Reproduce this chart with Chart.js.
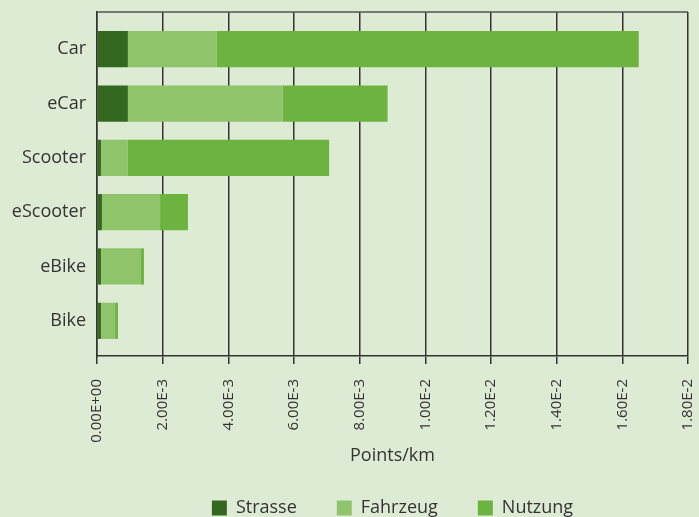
<!DOCTYPE html>
<html>
<head>
<meta charset="utf-8">
<script src="https://cdn.jsdelivr.net/npm/chart.js@4.4.1/dist/chart.umd.min.js"></script>
<style>
  html, body { margin: 0; padding: 0; background: #ddebd4; }
  #wrap { width: 699px; height: 517px; }
</style>
</head>
<body>
<div id="wrap"><canvas id="chart"></canvas></div>
<script>
// Points per km, split into the three impact parts
const categories = ["Car", "eCar", "Scooter", "eScooter", "eBike", "Bike"]
const strasse = [0.00094, 0.00094, 0.00012, 0.00015, 0.00012, 0.00012]
const fahrzeug = [0.00271, 0.00471, 0.00082, 0.00177, 0.00122, 0.00043]
const nutzung = [0.01285, 0.0032, 0.00613, 0.00085, 0.00009, 0.00009]

const xTickValues = [0, 0.002, 0.004, 0.006, 0.008, 0.01, 0.012, 0.014, 0.016, 0.018]
const xTickLabels = ["0.00E+00", "2.00E-3", "4.00E-3", "6.00E-3", "8.00E-3",
  "1.00E-2", "1.20E-2", "1.40E-2", "1.60E-2", "1.80E-2"]

const textColor = "#333333"
const fontFamily = "'Open Sans', sans-serif"

// bars sit on a linear index axis so the rows can be spaced freely
function rows(values) {
  return values.map((v, i) => ({ x: v, y: i }))
}

// top edge of the plot frame
const frameTop = {
  id: "frameTop",
  afterDraw(chart) {
    const { ctx, chartArea } = chart
    ctx.save()
    ctx.strokeStyle = "#555555"
    ctx.lineWidth = 1.5
    ctx.beginPath()
    ctx.moveTo(chartArea.left, chartArea.top)
    ctx.lineTo(chartArea.right, chartArea.top)
    ctx.stroke()
    ctx.restore()
  },
}

const ctx = document.getElementById("chart").getContext("2d")
new Chart(ctx, {
  type: "bar",
  data: {
    datasets: [
      { label: "Strasse", data: rows(strasse), backgroundColor: "#33691e" },
      { label: "Fahrzeug", data: rows(fahrzeug), backgroundColor: "#8fc46a" },
      { label: "Nutzung", data: rows(nutzung), backgroundColor: "#6db33f" },
    ],
  },
  options: {
    indexAxis: "y",
    responsive: true,
    maintainAspectRatio: false,
    animation: false,
    barPercentage: 0.667,
    categoryPercentage: 1,
    layout: { padding: { top: 12, right: 11, left: 0, bottom: -10 } },
    plugins: {
      tooltip: { enabled: false },
      legend: {
        position: "bottom",
        fullSize: false,
        labels: {
          boxWidth: 15,
          boxHeight: 15,
          padding: 40,
          color: textColor,
          font: { family: fontFamily, size: 18 },
        },
      },
    },
    scales: {
      x: {
        type: "linear",
        stacked: true,
        min: 0,
        max: 0.018,
        afterBuildTicks: (scale) => {
          scale.ticks = xTickValues.map((v) => ({ value: v }))
        },
        afterFit: (scale) => {
          scale.height = 103
          scale.paddingLeft = 0
          scale.paddingRight = 0
        },
        grid: { color: "#333333", lineWidth: 1.5, tickLength: 8, drawTicks: true },
        border: { display: true, color: "#333333", width: 1.5 },
        ticks: {
          autoSkip: false,
          minRotation: 90,
          maxRotation: 90,
          padding: 15,
          color: textColor,
          font: { family: fontFamily, size: 15 },
          callback: (v, i) => xTickLabels[i],
        },
        title: {
          display: true,
          text: "Points/km",
          color: textColor,
          font: { family: fontFamily, size: 18 },
          padding: { top: 4, bottom: -8 },
        },
      },
      y: {
        type: "linear",
        stacked: true,
        reverse: true,
        offset: false,
        min: -0.685,
        max: 5.648,
        afterBuildTicks: (scale) => {
          scale.ticks = categories.map((c, i) => ({ value: i }))
        },
        afterFit: (scale) => {
          scale.width = 97
          scale.paddingTop = 0
          scale.paddingBottom = 0
        },
        grid: { display: false, drawTicks: false, offset: false },
        border: { display: true, color: "#333333", width: 1.5 },
        ticks: {
          padding: 11,
          color: textColor,
          font: { family: fontFamily, size: 18 },
          callback: (v) => categories[v],
        },
      },
    },
  },
  plugins: [frameTop],
})
</script>
</body>
</html>
